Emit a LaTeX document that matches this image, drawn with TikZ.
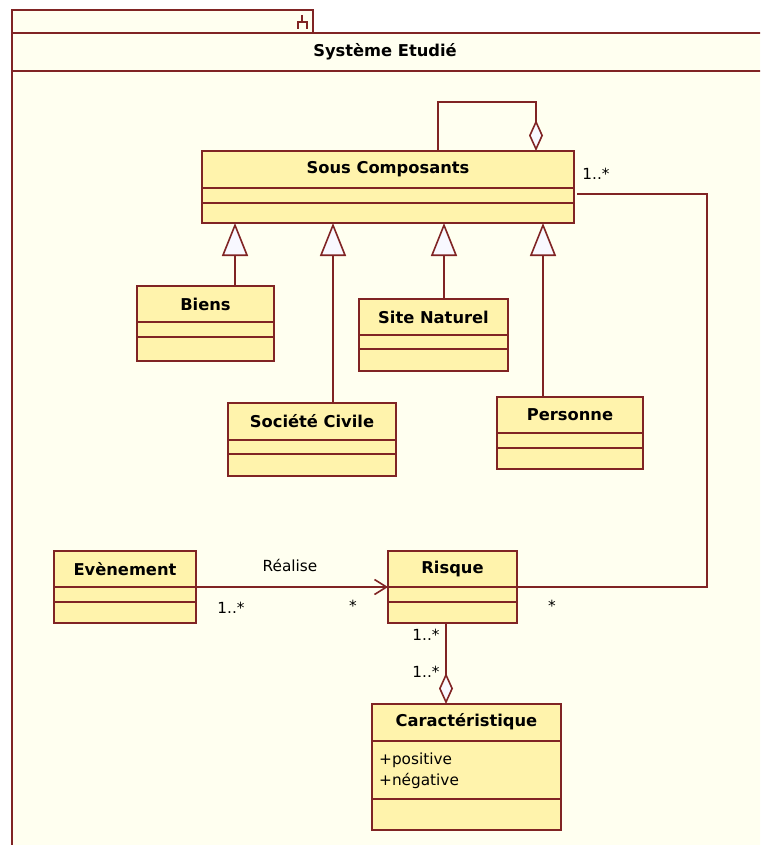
\documentclass[tikz,border=0pt]{standalone}
\usepackage{fontspec}
\setmainfont{DejaVu Sans}
\usetikzlibrary{arrows.meta,calc}
\definecolor{umlline}{RGB}{128,36,36}
\definecolor{pkgfill}{RGB}{255,255,240}
\definecolor{clsfill}{RGB}{255,243,172}
\definecolor{tipfill}{RGB}{248,248,255}
\tikzset{
  conn/.style={draw=umlline, line width=1.6pt},
  clsbox/.style={conn, fill=clsfill, inner sep=0pt, outer sep=0pt},
  clstitle/.style={font=\fontsize{16.3}{19}\selectfont\bfseries, text=black, inner sep=0pt},
  lbl/.style={font=\fontsize{15.3}{18}\selectfont, text=black, inner sep=0pt},
  gen/.style={conn, -{Triangle[length=33pt, width=26pt, fill=tipfill]}},
  agg/.style={conn, -{Diamond[length=31pt, width=14pt, fill=tipfill]}},
  nav/.style={conn, -{Straight Barb[length=12pt, width=15pt]}},
}
% #1 name, #2 x, #3 y, #4 w, #5 h, #6 first line, #7 second line, #8 title offset, #9 title
\newcommand\umlclass[9]{%
  \node[clsbox, minimum width=#4pt, minimum height=#5pt, anchor=north west] (#1) at (#2,#3) {};
  \draw[conn] ([yshift=-#6pt]#1.north west) -- ([yshift=-#6pt]#1.north east);
  \draw[conn] ([yshift=-#7pt]#1.north west) -- ([yshift=-#7pt]#1.north east);
  \node[clstitle] (#1-title) at ([yshift=-#8pt]#1.north) {#9};
}
\begin{document}
\begin{tikzpicture}[x=1pt, y=-1pt]
\useasboundingbox (0,0) rectangle (760,845);
\fill[white] (0,0) rectangle (760,845);
\begin{scope}
\clip (0,0) rectangle (760,845);
% package frame
\draw[conn, fill=pkgfill] (12,10) rectangle (313,33);
\draw[conn, fill=pkgfill] (12,33) rectangle (780,870);
\draw[conn] (12,71) -- (780,71);
\draw[conn, line width=1.2pt] (302,15) -- (302,22) (298,29) -- (298,22) -- (307,22) -- (307,29);
\node[clstitle] (systitle) at (385,52) {Système Etudié};

% classes
\umlclass{souscomp}{202}{151}{372}{72}{37}{52}{18}{Sous Composants}
\umlclass{biens}{137}{286}{137}{75}{36}{51}{18}{Biens}
\umlclass{societe}{228}{403}{168}{73}{37}{51}{18}{Société Civile}
\umlclass{site}{359}{299}{149}{72}{36}{50}{18}{Site Naturel}
\umlclass{personne}{497}{397}{146}{72}{36}{51}{18}{Personne}
\umlclass{evenement}{54}{551}{142}{72}{36}{51}{18}{Evènement}
\umlclass{risque}{388}{551}{129}{72}{36}{51}{18}{Risque}
\umlclass{carac}{372}{704}{189}{126}{37}{95}{18}{Caractéristique}
\node[lbl, anchor=west] (pos) at (379,760) {+positive};
\node[lbl, anchor=west] (neg) at (379,781) {+négative};

% generalizations
\coordinate (g1) at (235,0);
\coordinate (g2) at (333,0);
\coordinate (g3) at (444,0);
\coordinate (g4) at (543,0);
\draw[gen] (biens.north -| g1) -- (souscomp.south -| g1);
\draw[gen] (societe.north -| g2) -- (souscomp.south -| g2);
\draw[gen] (site.north -| g3) -- (souscomp.south -| g3);
\draw[gen] (personne.north -| g4) -- (souscomp.south -| g4);

% self aggregation
\coordinate (sa1) at (438,102);
\coordinate (sa2) at (536,102);
\draw[agg] (souscomp.north -| sa1) -- (sa1) -- (sa2) -- (souscomp.north -| sa2);

% association Sous Composants - Risque
\coordinate (c1) at (707,194);
\draw[conn, shorten <=3pt] (souscomp.east |- c1) -- (c1) |- (risque.east);
\node[lbl] (m1) at (596,174) {1..*};
\node[lbl] (m2) at (552,606) {*};

% Realise
\draw[nav] (evenement.east) -- (risque.west);
\node[lbl] (realise) at (290,565) {Réalise};
\node[lbl] (m3) at (231,608) {1..*};
\node[lbl] (m4) at (353,606) {*};

% Risque - Caracteristique
\coordinate (rc) at (446,0);
\draw[agg] (risque.south -| rc) -- (carac.north -| rc);
\node[lbl] (m5) at (426,635) {1..*};
\node[lbl] (m6) at (426,672) {1..*};
\end{scope}
\end{tikzpicture}
\end{document}
